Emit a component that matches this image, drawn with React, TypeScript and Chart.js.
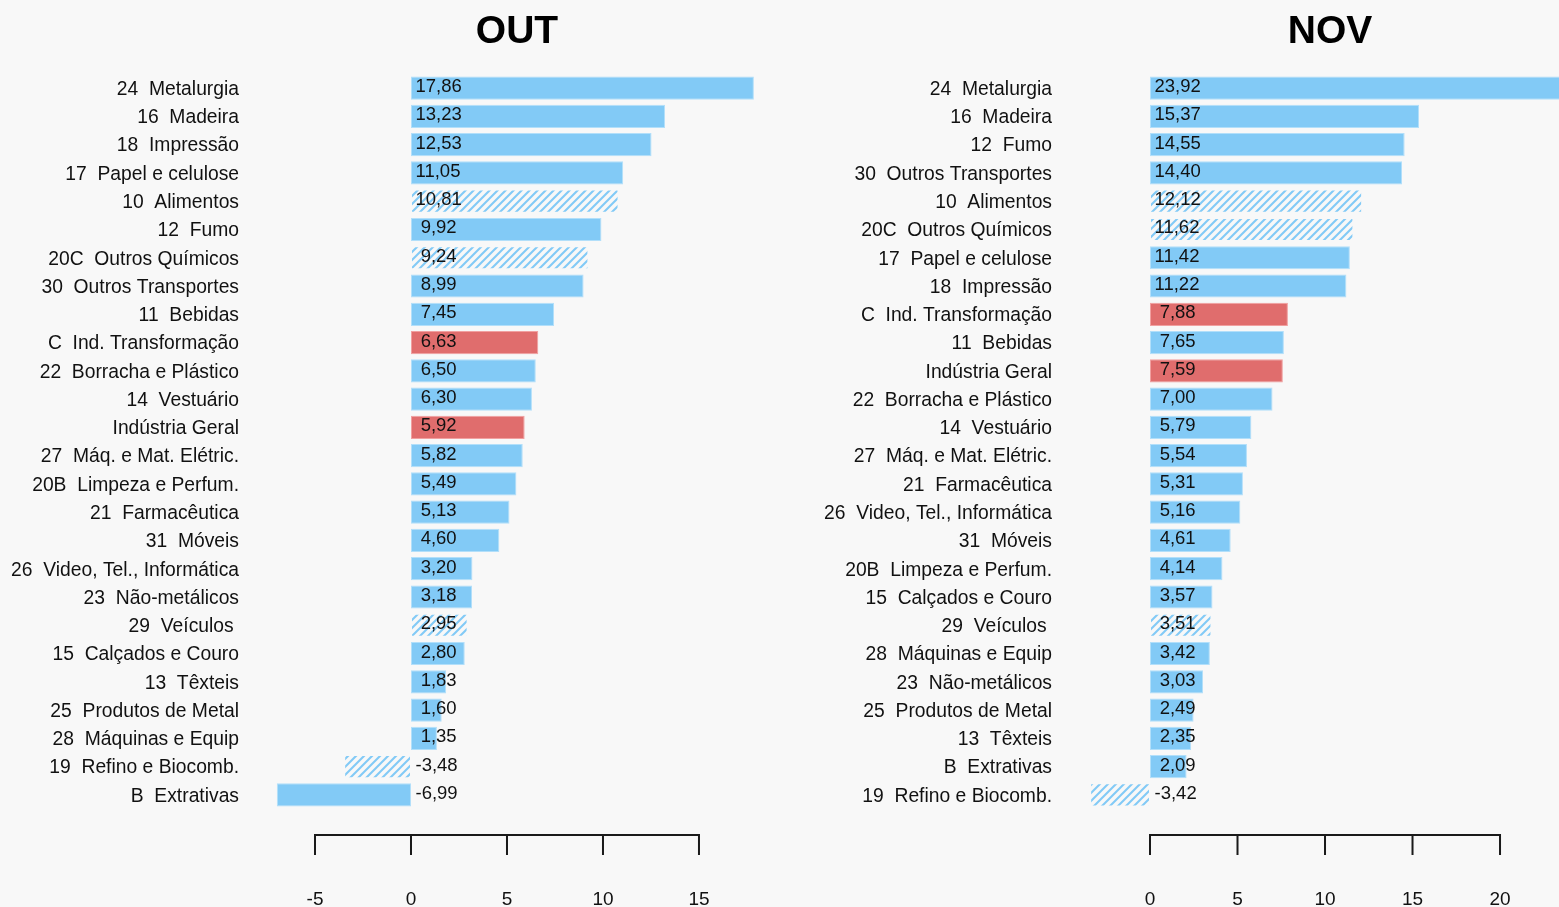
import React, { useEffect, useRef } from "react";
import { Chart, registerables } from "chart.js";

Chart.register(...registerables);

const outCategories = [
  "24  Metalurgia",
  "16  Madeira",
  "18  Impressão",
  "17  Papel e celulose",
  "10  Alimentos",
  "12  Fumo",
  "20C  Outros Químicos",
  "30  Outros Transportes",
  "11  Bebidas",
  "C  Ind. Transformação",
  "22  Borracha e Plástico",
  "14  Vestuário",
  "Indústria Geral",
  "27  Máq. e Mat. Elétric.",
  "20B  Limpeza e Perfum.",
  "21  Farmacêutica",
  "31  Móveis",
  "26  Video, Tel., Informática",
  "23  Não-metálicos",
  "29  Veículos ",
  "15  Calçados e Couro",
  "13  Têxteis",
  "25  Produtos de Metal",
  "28  Máquinas e Equip",
  "19  Refino e Biocomb.",
  "B  Extrativas",
];
const outValues = [
  17.86, 13.23, 12.53, 11.05, 10.81, 9.92, 9.24, 8.99, 7.45, 6.63, 6.5, 6.3, 5.92,
  5.82, 5.49, 5.13, 4.6, 3.2, 3.18, 2.95, 2.8, 1.83, 1.6, 1.35, -3.48, -6.99,
];

const novCategories = [
  "24  Metalurgia",
  "16  Madeira",
  "12  Fumo",
  "30  Outros Transportes",
  "10  Alimentos",
  "20C  Outros Químicos",
  "17  Papel e celulose",
  "18  Impressão",
  "C  Ind. Transformação",
  "11  Bebidas",
  "Indústria Geral",
  "22  Borracha e Plástico",
  "14  Vestuário",
  "27  Máq. e Mat. Elétric.",
  "21  Farmacêutica",
  "26  Video, Tel., Informática",
  "31  Móveis",
  "20B  Limpeza e Perfum.",
  "15  Calçados e Couro",
  "29  Veículos ",
  "28  Máquinas e Equip",
  "23  Não-metálicos",
  "25  Produtos de Metal",
  "13  Têxteis",
  "B  Extrativas",
  "19  Refino e Biocomb.",
];
const novValues = [
  23.92, 15.37, 14.55, 14.4, 12.12, 11.62, 11.42, 11.22, 7.88, 7.65, 7.59, 7.0, 5.79,
  5.54, 5.31, 5.16, 4.61, 4.14, 3.57, 3.51, 3.42, 3.03, 2.49, 2.35, 2.09, -3.42,
];

const hatchedCategories = [
  "10  Alimentos",
  "20C  Outros Químicos",
  "29  Veículos ",
  "19  Refino e Biocomb.",
];
const highlightCategories = ["C  Ind. Transformação", "Indústria Geral"];

const outTicks = [-5, 0, 5, 10, 15];
const novTicks = [0, 5, 10, 15, 20];

const BLUE = "#82CAF6";
const RED = "#E06D6D";
const BG = "#F8F8F8";
const FONT = "'Liberation Sans', Arial, sans-serif";

function makeHatch(): CanvasPattern | string {
  const s = 8;
  const c = document.createElement("canvas");
  c.width = s;
  c.height = s;
  const g = c.getContext("2d");
  if (!g) return BLUE;
  g.strokeStyle = BLUE;
  g.lineWidth = 2.1;
  g.beginPath();
  g.moveTo(-1, s + 1);
  g.lineTo(s + 1, -1);
  g.moveTo(-2, 2);
  g.lineTo(2, -2);
  g.moveTo(s - 2, s + 2);
  g.lineTo(s + 2, s - 2);
  g.stroke();
  const p = g.createPattern(c, "repeat");
  return p || BLUE;
}

function fmt(v: number): string {
  return v.toFixed(2).replace(".", ",").padStart(5, " ");
}

type PanelProps = {
  left: number;
  width: number;
  title: string;
  titleX: number;
  categories: string[];
  values: number[];
  ticks: number[];
  min: number;
  max: number;
  yWidth: number;
  labelPad: number;
};

function Panel(props: PanelProps) {
  const ref = useRef<HTMLCanvasElement | null>(null);
  useEffect(() => {
    const canvas = ref.current;
    if (!canvas) return;
    const hatch = makeHatch();
    const colors = props.categories.map((c) =>
      highlightCategories.includes(c) ? RED : hatchedCategories.includes(c) ? hatch : BLUE
    );
    const borders = props.categories.map((c) =>
      highlightCategories.includes(c)
        ? "rgba(240,150,150,0.9)"
        : hatchedCategories.includes(c)
        ? "rgba(0,0,0,0)"
        : "rgba(170,220,250,0.9)"
    );

    const decor = {
      id: "decor",
      afterDatasetsDraw(chart: any) {
        const ctx = chart.ctx;
        const xs = chart.scales.x;
        const meta = chart.getDatasetMeta(0);
        const x0 = xs.getPixelForValue(0);
        ctx.save();
        ctx.font = `18.5px ${FONT}`;
        ctx.fillStyle = "#111";
        ctx.textAlign = "left";
        ctx.textBaseline = "alphabetic";
        meta.data.forEach((bar: any, i: number) => {
          ctx.fillText(fmt(props.values[i]), x0 + 4.5, bar.y + 4);
        });
        ctx.restore();
      },
      afterDraw(chart: any) {
        const ctx = chart.ctx;
        const xs = chart.scales.x;
        const area = chart.chartArea;
        const yLine = area.bottom + 26;
        const t0 = xs.getPixelForValue(props.ticks[0]);
        const t1 = xs.getPixelForValue(props.ticks[props.ticks.length - 1]);
        ctx.save();
        ctx.strokeStyle = "#1a1a1a";
        ctx.lineWidth = 2;
        ctx.lineCap = "butt";
        ctx.beginPath();
        ctx.moveTo(t0 - 1, yLine);
        ctx.lineTo(t1 + 1, yLine);
        props.ticks.forEach((t) => {
          const px = xs.getPixelForValue(t);
          ctx.moveTo(px, yLine);
          ctx.lineTo(px, yLine + 20);
        });
        ctx.stroke();
        ctx.fillStyle = "#111";
        ctx.font = `19px ${FONT}`;
        ctx.textAlign = "center";
        ctx.textBaseline = "alphabetic";
        props.ticks.forEach((t) => {
          ctx.fillText(String(t), xs.getPixelForValue(t), yLine + 70);
        });
        ctx.font = `bold 39px ${FONT}`;
        ctx.fillStyle = "#000";
        ctx.textBaseline = "alphabetic";
        ctx.fillText(props.title, props.titleX, 43);
        ctx.restore();
      },
    };

    const chart = new Chart(canvas, {
      type: "bar",
      data: {
        labels: props.categories,
        datasets: [
          {
            data: props.values,
            backgroundColor: colors as any,
            borderColor: borders,
            borderWidth: 1,
            borderSkipped: false,
            categoryPercentage: 1,
            barPercentage: 0.82,
          },
        ],
      },
      options: {
        indexAxis: "y",
        responsive: false,
        animation: false,
        devicePixelRatio: 1,
        layout: { padding: { top: 74, bottom: 98, left: 0, right: 0 } },
        plugins: {
          legend: { display: false },
          tooltip: { enabled: false },
          title: { display: false },
        },
        scales: {
          x: { type: "linear", min: props.min, max: props.max, display: false },
          y: {
            type: "category",
            position: "left",
            grid: { display: false, drawTicks: false },
            border: { display: false },
            ticks: {
              autoSkip: false,
              padding: props.labelPad,
              labelOffset: 1.5,
              color: "#111",
              font: { family: FONT, size: 19.3 },
            },
            afterFit(scale: any) {
              scale.width = props.yWidth;
            },
          },
        },
      },
      plugins: [decor],
    } as any);
    return () => chart.destroy();
  }, []);

  return (
    <canvas
      ref={ref}
      width={props.width}
      height={907}
      style={{ position: "absolute", left: props.left, top: 0, display: "block" }}
    />
  );
}

export default function App() {
  return (
    <div
      style={{
        position: "absolute",
        left: 0,
        top: 0,
        width: 1559,
        height: 907,
        background: BG,
        overflow: "hidden",
      }}
    >
      <Panel
        left={0}
        width={780}
        title="OUT"
        titleX={517}
        categories={outCategories}
        values={outValues}
        ticks={outTicks}
        min={-8}
        max={19.22}
        yWidth={257.4}
        labelPad={18.4}
      />
      <Panel
        left={780}
        width={779}
        title="NOV"
        titleX={550}
        categories={novCategories}
        values={novValues}
        ticks={novTicks}
        min={-4}
        max={23.37}
        yWidth={300}
        labelPad={28}
      />
    </div>
  );
}
